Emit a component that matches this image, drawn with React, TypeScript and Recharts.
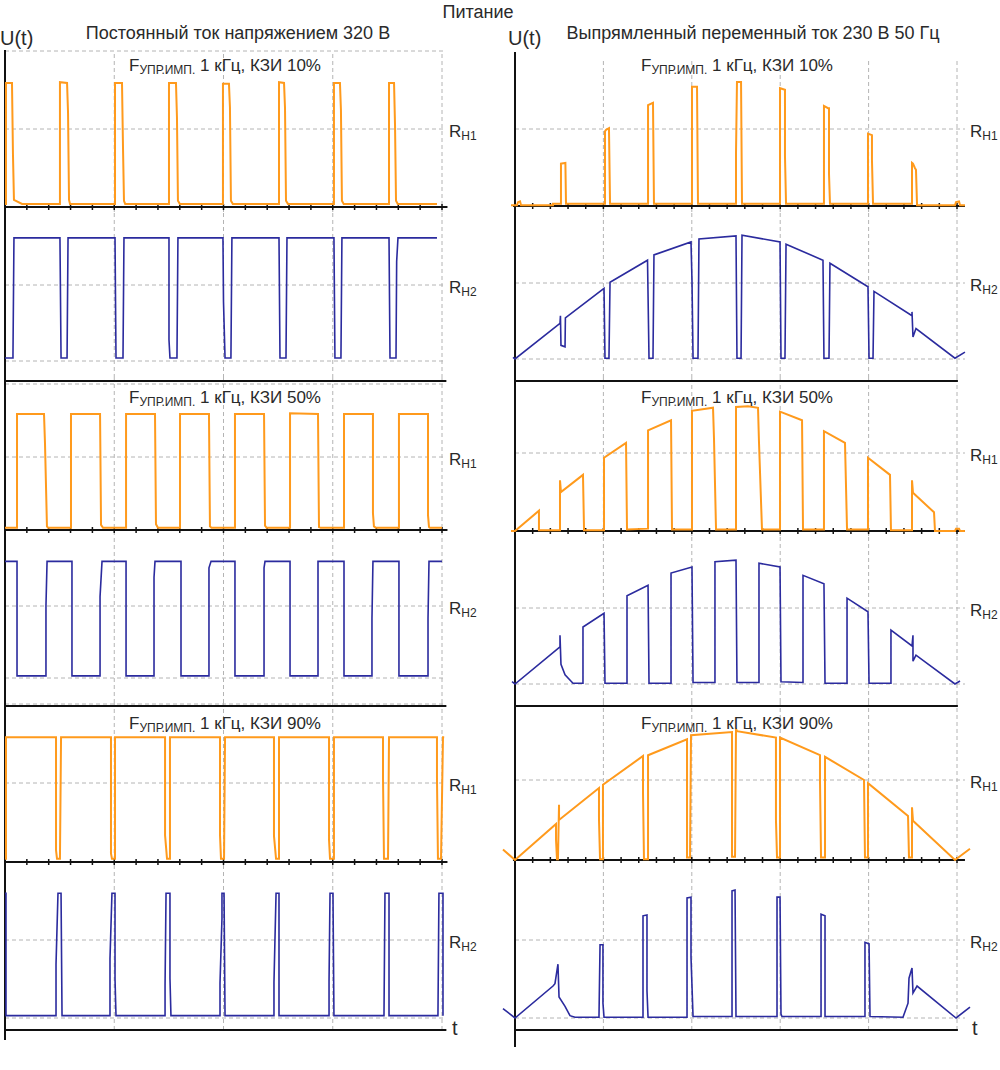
import React from 'react';
import { LineChart, Line, XAxis, YAxis, ReferenceLine } from 'recharts';

type Pt = [number, number];

// t in grid divisions, v: 0 = baseline, 1 = level of the R label line

// ---- DC 320 V column ----
const dc10Rh1: Pt[] = [
  [0, 0.04], [0.009, 0.04], [0.009, 1.59], [0.064, 1.59], [0.073, 0.67], [0.082, 0.09], [0.156, 0.04],
  [0.503, 0.04], [0.503, 1.6], [0.568, 1.59], [0.577, 1.21], [0.586, 0.09], [0.595, 0.04],
  [1.007, 0.04], [1.007, 1.59], [1.071, 1.59], [1.08, 0.77], [1.089, 0.08], [1.1, 0.04],
  [1.501, 0.04], [1.501, 1.59], [1.565, 1.59], [1.574, 1.15], [1.583, 0.08], [1.6, 0.04],
  [1.995, 0.04], [1.995, 1.58], [2.05, 1.58], [2.059, 1.28], [2.068, 0.08], [2.085, 0.04],
  [2.508, 0.04], [2.508, 1.6], [2.554, 1.59], [2.563, 1.27], [2.572, 0.08], [2.59, 0.04],
  [3.011, 0.04], [3.011, 1.59], [3.066, 1.59], [3.075, 1.24], [3.084, 0.08], [3.1, 0.04],
  [3.515, 0.04], [3.515, 1.59], [3.561, 1.59], [3.57, 1.05], [3.579, 0.08], [3.595, 0.04],
  [3.954, 0.04],
];
const dc10Rh2: Pt[] = [
  [0, 0.04], [0.073, 0.04], [0.073, 0.08], [0.082, 1.62],
  [0.503, 1.62], [0.513, 0.04], [0.568, 0.04], [0.577, 1.62],
  [1.007, 1.62], [1.016, 0.04], [1.08, 0.04], [1.089, 1.62],
  [1.501, 1.62], [1.501, 0.28], [1.51, 0.04], [1.574, 0.04], [1.583, 1.62],
  [1.995, 1.62], [2.0, 0.78], [2.014, 0.04], [2.068, 0.04], [2.077, 1.62],
  [2.508, 1.62], [2.517, 0.04], [2.572, 0.04], [2.581, 1.62],
  [3.011, 1.62], [3.02, 0.04], [3.075, 0.04], [3.084, 1.62],
  [3.515, 1.62], [3.524, 0.04], [3.579, 0.04], [3.585, 1.31], [3.597, 1.62],
  [3.954, 1.62],
];
const dc50Rh1: Pt[] = [
  [0, 0.03], [0.11, 0.03], [0.11, 1.59], [0.357, 1.59], [0.366, 1.19], [0.384, 0.05], [0.394, 0.03],
  [0.604, 0.03], [0.604, 1.59], [0.87, 1.59], [0.879, 0.07], [0.897, 0.03],
  [1.108, 0.03], [1.108, 1.59], [1.373, 1.59], [1.382, 0.08], [1.4, 0.03],
  [1.602, 0.03], [1.602, 1.59], [1.867, 1.59], [1.876, 0.05], [1.89, 0.03],
  [2.105, 0.03], [2.105, 1.59], [2.371, 1.59], [2.38, 0.06], [2.395, 0.03],
  [2.609, 0.03], [2.609, 1.6], [2.865, 1.59], [2.874, 0.04], [2.89, 0.03],
  [3.103, 0.03], [3.103, 1.59], [3.368, 1.59], [3.368, 0.23], [3.377, 0.05], [3.395, 0.03],
  [3.606, 0.03], [3.606, 1.59], [3.872, 1.59], [3.872, 0.2], [3.881, 0.04], [3.89, 0.03],
  [4.0, 0.03],
];
const dc50Rh2: Pt[] = [
  [0, 1.62], [0.11, 1.62], [0.11, 0.03], [0.375, 0.03], [0.375, 1.01], [0.385, 1.62],
  [0.613, 1.62], [0.613, 0.03], [0.87, 0.03], [0.87, 1.13], [0.888, 1.62],
  [1.108, 1.62], [1.108, 0.03], [1.364, 0.03], [1.364, 1.4], [1.373, 1.62],
  [1.611, 1.62], [1.611, 0.03], [1.867, 0.03], [1.867, 1.53], [1.886, 1.62],
  [2.105, 1.62], [2.105, 0.03], [2.371, 0.03], [2.371, 1.53], [2.38, 1.62],
  [2.609, 1.62], [2.609, 0.03], [2.865, 0.03], [2.865, 1.62],
  [3.103, 1.62], [3.103, 0.03], [3.359, 0.03], [3.359, 0.83], [3.368, 1.62],
  [3.606, 1.62], [3.606, 0.03], [3.872, 0.03], [3.872, 0.83], [3.881, 1.62],
  [4.0, 1.62],
];
const dc90Rh1: Pt[] = [
  [0, 0.04], [0.009, 0.04], [0.009, 1.58], [0.467, 1.58], [0.467, 0.15], [0.476, 0.04], [0.503, 0.04], [0.513, 1.58],
  [0.97, 1.58], [0.97, 0.11], [0.979, 0.04], [1.007, 0.04], [1.007, 1.58],
  [1.465, 1.58], [1.465, 0.34], [1.483, 0.04], [1.51, 0.04], [1.51, 1.58],
  [1.968, 1.58], [1.968, 0.34], [1.977, 0.04], [2.005, 0.04], [2.014, 1.58],
  [2.462, 1.58], [2.462, 0.33], [2.481, 0.04], [2.508, 0.04], [2.508, 1.58],
  [2.966, 1.58], [2.966, 0.28], [2.975, 0.04], [3.011, 0.04], [3.011, 1.58],
  [3.46, 1.58], [3.46, 1.06], [3.469, 0.04], [3.506, 0.04], [3.515, 1.58],
  [3.954, 1.58], [3.954, 1.05], [3.963, 0.04], [3.991, 0.04], [4.009, 1.58], [4.02, 1.58],
];
const dc90Rh2: Pt[] = [
  [0, 1.6], [0.009, 1.6], [0.009, 0.03], [0.467, 0.03], [0.467, 0.69], [0.485, 1.6], [0.513, 1.6], [0.522, 0.03],
  [0.961, 0.03], [0.961, 0.76], [0.979, 1.6], [1.007, 1.6], [1.007, 0.5], [1.016, 0.03],
  [1.465, 0.03], [1.465, 0.42], [1.474, 1.6], [1.51, 1.6], [1.51, 0.51], [1.519, 0.03],
  [1.968, 0.03], [1.968, 0.45], [1.986, 1.28], [1.986, 1.6], [2.005, 1.6], [2.014, 0.03],
  [2.462, 0.03], [2.462, 0.46], [2.481, 1.6], [2.508, 1.6], [2.508, 0.03],
  [2.966, 0.03], [2.966, 0.47], [2.975, 1.6], [3.002, 1.6], [3.011, 0.03],
  [3.469, 0.03], [3.478, 1.6], [3.515, 1.6], [3.515, 0.03],
  [3.963, 0.03], [3.972, 1.6], [4.009, 1.6], [4.009, 0.03],
];

// ---- rectified AC 230 V 50 Hz column ----
const ac10Rh1: Pt[] = [
  [-0.045, 0.01], [0.023, 0.01], [0.034, 0.05], [0.057, 0.06], [0.068, 0.01], [0.43, 0.01], [0.43, 0.03],
  [0.52, 0.03], [0.52, 0.55], [0.57, 0.56], [0.577, 0.03],
  [1.018, 0.03], [1.018, 0.97], [1.03, 0.99], [1.063, 1.01], [1.075, 0.03],
  [1.505, 0.03], [1.505, 1.31], [1.561, 1.34], [1.572, 0.03],
  [2.002, 0.03], [2.002, 1.55], [2.059, 1.55], [2.07, 0.03],
  [2.5, 0.03], [2.5, 0.69], [2.511, 1.61], [2.557, 1.61], [2.568, 0.03],
  [2.998, 0.03], [2.998, 1.53], [3.054, 1.51], [3.054, 0.65], [3.066, 0.03],
  [3.495, 0.03], [3.495, 1.3], [3.541, 1.27], [3.552, 1.27], [3.552, 0.42], [3.563, 0.03],
  [3.993, 0.03], [3.993, 0.94], [4.038, 0.92], [4.038, 0.6], [4.05, 0.03],
  [4.491, 0.03], [4.491, 0.56], [4.502, 0.55], [4.525, 0.49], [4.536, 0.47], [4.548, 0.01],
  [4.977, 0.01], [4.989, 0.05], [5.023, 0.06], [5.034, 0.01], [5.09, 0.01],
];
const ac10Rh2: Pt[] = [
  [-0.023, 0.02], [0, 0], [0.509, 0.47], [0.514, 0.57], [0.52, 0.18], [0.566, 0.16], [0.57, 0.54],
  [1.007, 0.93], [1.018, 0.01], [1.063, 0.01], [1.075, 1.01],
  [1.499, 1.3], [1.516, 0.01], [1.561, 0.01], [1.572, 1.37],
  [1.991, 1.54], [2.002, 1.04], [2.014, 0.01], [2.07, 0.01], [2.081, 1.58],
  [2.5, 1.62], [2.511, 0.01], [2.557, 0.01], [2.568, 1.63],
  [2.998, 1.54], [3.009, 0.01], [3.054, 0.01], [3.066, 1.51],
  [3.484, 1.3], [3.495, 0.01], [3.552, 0.01], [3.563, 1.26],
  [3.993, 0.95], [4.005, 0.01], [4.05, 0.01], [4.061, 0.89],
  [4.491, 0.57], [4.491, 0.62], [4.502, 0.29], [4.536, 0.4],
  [4.977, 0.01], [5.09, 0.09],
];
const ac50Rh1: Pt[] = [
  [-0.045, 0], [0, 0], [0.271, 0.26], [0.271, 0.01], [0.43, 0.01],
  [0.509, 0.01], [0.509, 0.65], [0.52, 0.5], [0.769, 0.72], [0.781, 0.01],
  [1.007, 0.01], [1.007, 0.94], [1.256, 1.13], [1.267, 0.02],
  [1.505, 0.03], [1.505, 1.29], [1.765, 1.42], [1.776, 0.02],
  [2.002, 0.02], [2.002, 1.54], [2.24, 1.58], [2.251, 1.19], [2.274, 0.02],
  [2.5, 0.02], [2.5, 1.59], [2.636, 1.6], [2.749, 1.58], [2.76, 1.14], [2.794, 0.02],
  [2.998, 0.02], [2.998, 1.53], [3.247, 1.42], [3.258, 0.02],
  [3.495, 0.02], [3.495, 1.28], [3.733, 1.13], [3.756, 0.02],
  [3.993, 0.02], [3.993, 0.94], [4.242, 0.72], [4.253, 0.01],
  [4.491, 0.01], [4.491, 0.65], [4.502, 0.49], [4.74, 0.24], [4.751, 0],
  [4.977, 0], [4.989, 0.03], [5.023, 0.03], [5.034, 0], [5.09, 0],
];
const ac50Rh2: Pt[] = [
  [-0.034, 0.03], [0, 0], [0.509, 0.49], [0.509, 0.64], [0.52, 0.26], [0.566, 0.12], [0.656, 0.01],
  [0.769, 0.01], [0.769, 0.75], [1.007, 0.93], [1.018, 0.01],
  [1.267, 0.01], [1.267, 1.16], [1.505, 1.3], [1.516, 0.01],
  [1.765, 0.01], [1.765, 1.46], [2.002, 1.54], [2.014, 0.02],
  [2.262, 0.02], [2.262, 1.61], [2.5, 1.63], [2.511, 0.02],
  [2.76, 0.02], [2.76, 1.59], [2.998, 1.54], [3.009, 0.03],
  [3.258, 0.02], [3.258, 1.43], [3.495, 1.32], [3.507, 0.01],
  [3.756, 0.01], [3.756, 1.13], [3.993, 0.95], [4.005, 0.01],
  [4.253, 0.01], [4.253, 0.71], [4.491, 0.5], [4.502, 0.64], [4.502, 0.3], [4.536, 0.38],
  [4.977, 0], [5.034, 0.04],
];
const ac90Rh1: Pt[] = [
  [-0.136, 0.13], [0, 0], [0.464, 0.45], [0.464, 0.25], [0.475, 0.01], [0.486, 0.01], [0.498, 0.69], [0.498, 0.5],
  [0.95, 0.9], [0.95, 0.51], [0.962, 0.01], [0.995, 0.01], [0.995, 0.94],
  [1.448, 1.3], [1.448, 0.84], [1.459, 0.01], [1.505, 0.01], [1.505, 1.31],
  [1.946, 1.51], [1.946, 0.03], [1.98, 0.03], [1.991, 1.56],
  [2.455, 1.6], [2.455, 0.04], [2.489, 0.04], [2.5, 1.64], [2.511, 1.61],
  [2.952, 1.53], [2.952, 0.5], [2.964, 0.03], [2.998, 0.03], [2.998, 1.53],
  [3.45, 1.31], [3.45, 1.0], [3.462, 0.03], [3.507, 0.03], [3.507, 1.29],
  [3.948, 1.0], [3.959, 0.03], [3.993, 0.03], [3.993, 0.96],
  [4.446, 0.55], [4.457, 0.03], [4.491, 0.03], [4.491, 0.66], [4.502, 0.49],
  [4.977, 0], [5.147, 0.14],
];
const ac90Rh2: Pt[] = [
  [-0.136, 0.12], [0, 0], [0.43, 0.41], [0.452, 0.44], [0.486, 0.69], [0.498, 0.27], [0.566, 0.15], [0.622, 0.03], [0.679, 0.01],
  [0.95, 0.01], [0.962, 0.94], [0.995, 0.94], [0.995, 0.19], [1.007, 0.01],
  [1.448, 0.01], [1.448, 1.31], [1.493, 1.32], [1.493, 0.35], [1.505, 0.01],
  [1.946, 0.01], [1.946, 1.54], [1.991, 1.55], [1.991, 0.78], [2.014, 0.02],
  [2.455, 0.02], [2.455, 1.63], [2.489, 1.64], [2.5, 0.02],
  [2.964, 0.02], [2.964, 1.55], [2.998, 1.55], [3.009, 0.05], [3.02, 0.02],
  [3.462, 0.02], [3.462, 1.33], [3.507, 1.31], [3.507, 0.02],
  [3.959, 0.02], [3.959, 0.97], [4.005, 0.95], [4.016, 0.02],
  [4.389, 0.01], [4.446, 0.19], [4.457, 0.51], [4.491, 0.64], [4.502, 0.32], [4.548, 0.41],
  [4.989, 0], [5.147, 0.14],
];

const ORANGE = '#ff9a1c';
const BLUE = '#2b2b9e';
const GRID = '#b4b4b4';
const INK = '#111';
const TEXT = '#2a2a2a';
const FONT = '"Liberation Sans", Arial, sans-serif';

type Col = {
  px0: number; unit: number; left: number; right: number; grid: number[]; ticks: number[];
  dashEnd: number; axisStart: number; axisEnd: number; sepEnd: number;
};

const LEFT: Col = {
  px0: 5, unit: 109.25, left: 0, right: 470, grid: [1, 2, 3, 4],
  ticks: Array.from({ length: 21 }, (_, i) => i * 0.2),
  dashEnd: 4.01, axisStart: 0, axisEnd: 4.05, sepEnd: 4.04,
};
const RIGHT: Col = {
  px0: 515, unit: 88.4, left: 495, right: 1000, grid: [1, 2, 3, 4, 5],
  ticks: Array.from({ length: 26 }, (_, i) => i * 0.2),
  dashEnd: 5.09, axisStart: -0.023, axisEnd: 5.09, sepEnd: 5.01,
};

type PanelSpec = {
  top: number; bottom: number; zero: number; one: number; data: Pt[]; color: string;
  dashed: number[]; tickAxis?: boolean; sep?: number; base?: number; gridTop?: number; gridBottom?: number;
};

const leftPanels: PanelSpec[] = [
  { top: 50, bottom: 212, zero: 207, one: 129, data: dc10Rh1, color: ORANGE, dashed: [1, 2], tickAxis: true, gridTop: 52 },
  { top: 212, bottom: 378, zero: 361, one: 285, data: dc10Rh2, color: BLUE, dashed: [0, 1] },
  { top: 378, bottom: 535, zero: 530, one: 457, data: dc50Rh1, color: ORANGE, dashed: [1, 2], tickAxis: true, sep: 381 },
  { top: 535, bottom: 703, zero: 678, one: 606, data: dc50Rh2, color: BLUE, dashed: [0, 1] },
  { top: 703, bottom: 867, zero: 862, one: 783, data: dc90Rh1, color: ORANGE, dashed: [1, 2], tickAxis: true, sep: 706 },
  { top: 867, bottom: 1040, zero: 1018, one: 940, data: dc90Rh2, color: BLUE, dashed: [0, 1], base: 1030, gridBottom: 1030 },
];
const rightPanels: PanelSpec[] = [
  { top: 52, bottom: 212, zero: 206, one: 129, data: ac10Rh1, color: ORANGE, dashed: [1], tickAxis: true, gridTop: 60 },
  { top: 212, bottom: 378, zero: 359, one: 283, data: ac10Rh2, color: BLUE, dashed: [0, 1] },
  { top: 378, bottom: 536, zero: 531, one: 453, data: ac50Rh1, color: ORANGE, dashed: [1], tickAxis: true, sep: 381 },
  { top: 536, bottom: 702, zero: 684, one: 608, data: ac50Rh2, color: BLUE, dashed: [0, 1] },
  { top: 702, bottom: 866, zero: 860, one: 780, data: ac90Rh1, color: ORANGE, dashed: [1], tickAxis: true, sep: 706 },
  { top: 866, bottom: 1047, zero: 1018, one: 940, data: ac90Rh2, color: BLUE, dashed: [0, 1], base: 1030, gridBottom: 1030 },
];

function Panel({ col, p }: { col: Col; p: PanelSpec }) {
  const toV = (py: number) => (p.zero - py) / (p.zero - p.one);
  const w = col.right - col.left;
  const h = p.bottom - p.top;
  const xDom = [(col.left - col.px0) / col.unit, (col.right - col.px0) / col.unit];
  const yDom = [toV(p.bottom), toV(p.top)];
  const gTop = toV(p.gridTop ?? p.top);
  const gBot = toV(p.gridBottom ?? p.bottom);
  const tickHalf = 3 / (p.zero - p.one);
  const pts = p.data.map(([t, v]) => ({ t, v }));
  return (
    <div style={{ position: 'absolute', left: col.left, top: p.top }}>
      <LineChart width={w} height={h} data={pts} margin={{ top: 0, right: 0, bottom: 0, left: 0 }}>
        <XAxis type="number" dataKey="t" domain={xDom} allowDataOverflow hide />
        <YAxis type="number" domain={yDom} allowDataOverflow hide />
        {col.grid.map((g) => (
          <ReferenceLine key={'g' + g} segment={[{ x: g, y: gBot }, { x: g, y: gTop }]}
            stroke={GRID} strokeWidth={1} strokeDasharray="4 3" />
        ))}
        {p.dashed.map((d) => (
          <ReferenceLine key={'d' + d} segment={[{ x: 0, y: d }, { x: col.dashEnd, y: d }]}
            stroke={GRID} strokeWidth={1} strokeDasharray="4 3" />
        ))}
        {p.sep !== undefined && (
          <ReferenceLine segment={[{ x: 0, y: toV(p.sep) }, { x: col.sepEnd, y: toV(p.sep) }]} stroke={INK} strokeWidth={2} />
        )}
        {p.base !== undefined && (
          <ReferenceLine segment={[{ x: 0, y: toV(p.base) }, { x: col.sepEnd, y: toV(p.base) }]} stroke={INK} strokeWidth={2} />
        )}
        {p.tickAxis && (
          <ReferenceLine segment={[{ x: col.axisStart, y: 0 }, { x: col.axisEnd, y: 0 }]} stroke={INK} strokeWidth={2} />
        )}
        {p.tickAxis && col.ticks.map((t) => (
          <ReferenceLine key={'t' + t} segment={[{ x: t, y: -tickHalf }, { x: t, y: tickHalf }]} stroke={INK} strokeWidth={1.5} />
        ))}
        <ReferenceLine segment={[{ x: 0, y: yDom[0] }, { x: 0, y: yDom[1] }]} stroke={INK} strokeWidth={2} />
        <Line type="linear" dataKey="v" stroke={p.color} strokeWidth={p.color === ORANGE ? 2 : 1.6}
          dot={false} activeDot={false} isAnimationActive={false} />
      </LineChart>
    </div>
  );
}

const subtitles = ['10%', '50%', '90%'];
const subY = [71, 403, 729];
const rMidsL = [129, 285, 457, 606, 783, 940];
const rMidsR = [129, 283, 453, 608, 780, 940];
const rSubs = ['Н1', 'Н2', 'Н1', 'Н2', 'Н1', 'Н2'];

function Labels() {
  return (
    <svg width={1000} height={1070} style={{ position: 'absolute', left: 0, top: 0, pointerEvents: 'none' }}
      fontFamily={FONT} fill={TEXT}>
      <text x={478} y={18} fontSize={18} textAnchor="middle">Питание</text>
      <text x={238} y={39} fontSize={18} textAnchor="middle">Постоянный ток напряжением 320 В</text>
      <text x={753} y={39} fontSize={18} textAnchor="middle">Выпрямленный переменный ток 230 В 50 Гц</text>
      <text x={0} y={45} fontSize={20}>U(t)</text>
      <text x={508} y={45} fontSize={20}>U(t)</text>
      <text x={452} y={1035} fontSize={20}>t</text>
      <text x={972} y={1035} fontSize={20}>t</text>
      {subtitles.map((s, i) => [225, 737].map((cx) => (
        <text key={s + cx} x={cx} y={subY[i]} fontSize={17} textAnchor="middle">
          F<tspan fontSize={12} dy={3}>УПР.ИМП.</tspan><tspan dy={-3}> 1 кГц, КЗИ {s}</tspan>
        </text>
      )))}
      {rMidsL.map((m, i) => (
        <text key={'l' + i} x={449} y={m + 7.5} fontSize={17}>
          R<tspan fontSize={12} dy={3}>{rSubs[i]}</tspan>
        </text>
      ))}
      {rMidsR.map((m, i) => (
        <text key={'r' + i} x={970} y={m + 7.5} fontSize={17}>
          R<tspan fontSize={12} dy={3}>{rSubs[i]}</tspan>
        </text>
      ))}
    </svg>
  );
}

export default function App() {
  return (
    <div style={{ position: 'absolute', left: 0, top: 0, width: 1000, height: 1070, background: '#fff' }}>
      {leftPanels.map((p, i) => <Panel key={'L' + i} col={LEFT} p={p} />)}
      {rightPanels.map((p, i) => <Panel key={'R' + i} col={RIGHT} p={p} />)}
      <Labels />
    </div>
  );
}
